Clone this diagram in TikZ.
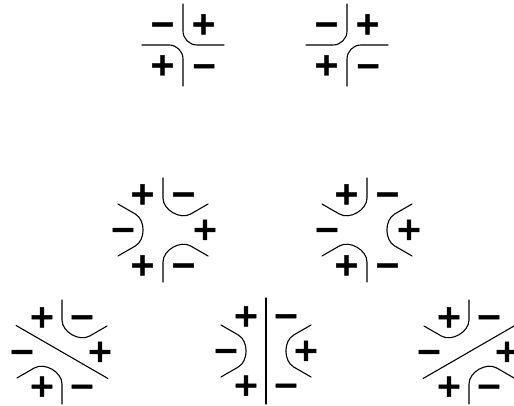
\documentclass[tikz,border=0pt]{standalone}
\usepackage{fontspec}
\newfontfamily\sgnfont[BoldFeatures={FakeBold=1.5}]{DejaVu Sans}
\newcommand\hcorner[2]{\draw[wire] (#1:52) -- (#1:32) .. controls (#1:20) and (#2:20) .. (#2:32) -- (#2:52);}
\newcommand\qcorner[2]{\draw[wire] (#1:41) -- (#1:14) .. controls (#1:6.3) and (#2:6.3) .. (#2:14) -- (#2:41);}
\begin{document}
\begin{tikzpicture}[x=1pt,y=1pt,
  wire/.style={line width=1.1pt, line cap=round},
  sgn/.style={font=\sgnfont\bfseries\fontsize{32}{32}\selectfont, inner sep=0pt, text height=20pt, text depth=0pt}]
\useasboundingbox (0,0) rectangle (514,406);
% top left
\begin{scope}[shift={(183,361)}]
  \qcorner{90}{0}
  \qcorner{180}{270}
  \node[sgn] (a1) at (135:29) {−};
  \node[sgn] (a2) at (45:29) {+};
  \node[sgn] (a3) at (225:29) {+};
  \node[sgn] (a4) at (315:30) {−};
\end{scope}
% top right
\begin{scope}[shift={(347,361)}]
  \qcorner{90}{180}
  \qcorner{270}{0}
  \node[sgn] (b1) at (135:29) {−};
  \node[sgn] (b2) at (45:29) {+};
  \node[sgn] (b3) at (225:29) {+};
  \node[sgn] (b4) at (315:30) {−};
\end{scope}
% middle left
\begin{scope}[shift={(163,176)}]
  \hcorner{90}{30}
  \hcorner{150}{210}
  \hcorner{270}{330}
  \node[sgn] (c1) at (120:41) {+};
  \node[sgn] (c2) at (60:41) {−};
  \node[sgn] (c3) at (180:40) {−};
  \node[sgn] (c4) at (0:42) {+};
  \node[sgn] (c5) at (240:41) {+};
  \node[sgn] (c6) at (300:41) {−};
\end{scope}
% middle right
\begin{scope}[shift={(367,176)}]
  \hcorner{90}{150}
  \hcorner{330}{30}
  \hcorner{210}{270}
  \node[sgn] (d1) at (120:41) {+};
  \node[sgn] (d2) at (60:41) {−};
  \node[sgn] (d3) at (180:40) {−};
  \node[sgn] (d4) at (0:42) {+};
  \node[sgn] (d5) at (240:41) {+};
  \node[sgn] (d6) at (300:41) {−};
\end{scope}
% bottom left
\begin{scope}[shift={(62,54)}]
  \hcorner{90}{30}
  \hcorner{210}{270}
  \draw[wire] (150:53) -- (330:53);
  \node[sgn] (e1) at (120:40) {+};
  \node[sgn] (e2) at (60:40) {−};
  \node[sgn] (e3) at (180:40) {−};
  \node[sgn] (e4) at (0:38) {+};
  \node[sgn] (e5) at (240:40) {+};
  \node[sgn] (e6) at (300:40) {−};
\end{scope}
% bottom middle
\begin{scope}[shift={(266,55)}]
  \hcorner{150}{210}
  \hcorner{330}{30}
  \draw[wire] (90:53) -- (270:53);
  \node[sgn] (f1) at (120:40) {+};
  \node[sgn] (f2) at (60:40) {−};
  \node[sgn] (f3) at (180:40) {−};
  \node[sgn] (f4) at (0:40) {+};
  \node[sgn] (f5) at (240:40) {+};
  \node[sgn] (f6) at (300:40) {−};
\end{scope}
% bottom right
\begin{scope}[shift={(469,54)}]
  \hcorner{90}{150}
  \hcorner{270}{330}
  \draw[wire] (30:53) -- (210:53);
  \node[sgn] (g1) at (120:40) {+};
  \node[sgn] (g2) at (60:40) {−};
  \node[sgn] (g3) at (180:40) {−};
  \node[sgn] (g4) at (0:38) {+};
  \node[sgn] (g5) at (240:40) {+};
  \node[sgn] (g6) at (300:40) {−};
\end{scope}
\end{tikzpicture}
\end{document}
